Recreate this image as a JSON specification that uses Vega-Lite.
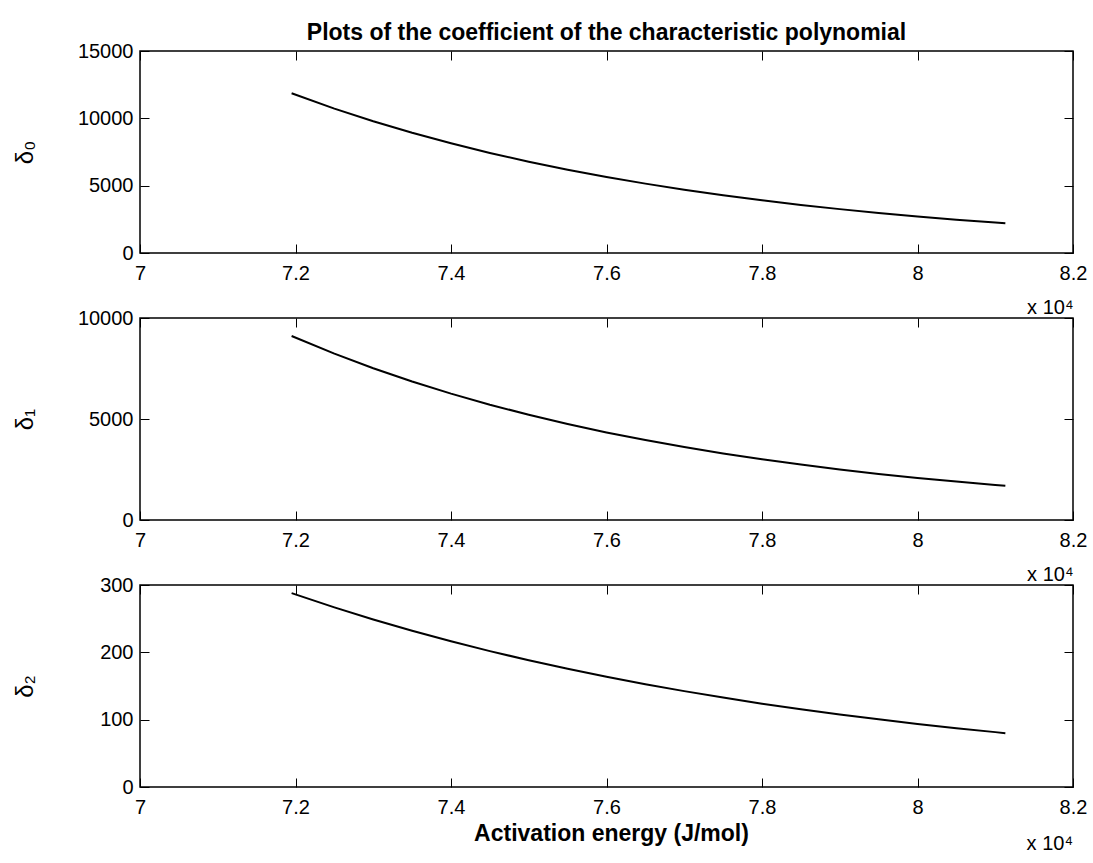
{
  "$schema": "https://vega.github.io/schema/vega-lite/v6.json",
  "background": "white",
  "padding": {"left": 12, "top": 21, "right": 5, "bottom": 5},
  "spacing": 65,
  "bounds": "flush",
  "datasets": {
    "d0": [
      {"E": 71950, "v": 11860}, {"E": 72500, "v": 10723}, {"E": 73000, "v": 9783}, {"E": 73500, "v": 8927},
      {"E": 74000, "v": 8145}, {"E": 74500, "v": 7431}, {"E": 75000, "v": 6780}, {"E": 75500, "v": 6187},
      {"E": 76000, "v": 5645}, {"E": 76500, "v": 5151}, {"E": 77000, "v": 4700}, {"E": 77500, "v": 4289},
      {"E": 78000, "v": 3913}, {"E": 78500, "v": 3570}, {"E": 79000, "v": 3258}, {"E": 79500, "v": 2972},
      {"E": 80000, "v": 2711}, {"E": 80500, "v": 2474}, {"E": 81000, "v": 2257}, {"E": 81130, "v": 2205}
    ],
    "d1": [
      {"E": 71950, "v": 9110}, {"E": 72500, "v": 8236}, {"E": 73000, "v": 7515}, {"E": 73500, "v": 6857},
      {"E": 74000, "v": 6257}, {"E": 74500, "v": 5708}, {"E": 75000, "v": 5208}, {"E": 75500, "v": 4753},
      {"E": 76000, "v": 4336}, {"E": 76500, "v": 3956}, {"E": 77000, "v": 3610}, {"E": 77500, "v": 3294},
      {"E": 78000, "v": 3005}, {"E": 78500, "v": 2742}, {"E": 79000, "v": 2503}, {"E": 79500, "v": 2283},
      {"E": 80000, "v": 2083}, {"E": 80500, "v": 1900}, {"E": 81000, "v": 1734}, {"E": 81130, "v": 1694}
    ],
    "d2": [
      {"E": 71950, "v": 288}, {"E": 72500, "v": 266.7}, {"E": 73000, "v": 248.7}, {"E": 73500, "v": 232.0},
      {"E": 74000, "v": 216.4}, {"E": 74500, "v": 201.8}, {"E": 75000, "v": 188.2}, {"E": 75500, "v": 175.5},
      {"E": 76000, "v": 163.7}, {"E": 76500, "v": 152.7}, {"E": 77000, "v": 142.4}, {"E": 77500, "v": 132.8},
      {"E": 78000, "v": 123.8}, {"E": 78500, "v": 115.5}, {"E": 79000, "v": 107.7}, {"E": 79500, "v": 100.5},
      {"E": 80000, "v": 93.7}, {"E": 80500, "v": 87.4}, {"E": 81000, "v": 81.5}, {"E": 81130, "v": 80.0}
    ]
  },
  "vconcat": [
    {
      "width": 933, "height": 202,
      "title": {"text": "Plots of the coefficient of the characteristic polynomial", "fontSize": 23, "fontWeight": "bold", "anchor": "middle", "frame": "group", "baseline": "alphabetic", "offset": -22, "color": "#000"},
      "data": {"name": "d0"},
      "layer": [
        {
          "mark": {"type": "line", "color": "#000", "strokeWidth": 2},
          "encoding": {
            "x": {"field": "E", "type": "quantitative", "scale": {"domain": [70000, 82000], "nice": false, "zero": false},
              "axis": {"orient": "bottom", "values": [70000, 72000, 74000, 76000, 78000, 80000, 82000], "labelExpr": "format(datum.value/10000, '~g')", "tickSize": -9, "labelPadding": 19, "labelFlush": false, "labelOverlap": false, "labelBound": false, "title": "x 10⁴", "titleAnchor": "end", "titleAlign": "right", "titleBaseline": "alphabetic", "titleY": 60}},
            "y": {"field": "v", "type": "quantitative", "scale": {"domain": [0, 15000], "nice": false},
              "axis": {"orient": "left", "values": [0, 5000, 10000, 15000], "format": "d", "tickSize": -9, "labelPadding": 16, "labelOverlap": false, "title": "δ₀", "titleFontSize": 24, "titleX": -115, "titleY": 101, "titleAngle": 270, "titleAlign": "center", "titleBaseline": "middle"}}
          }
        },
        {
          "mark": {"type": "line", "strokeOpacity": 0},
          "encoding": {
            "x": {"field": "E", "type": "quantitative", "scale": {"domain": [70000, 82000], "nice": false, "zero": false},
              "axis": {"orient": "top", "values": [70000, 72000, 74000, 76000, 78000, 80000, 82000], "tickSize": -9, "labels": false, "title": null}},
            "y": {"field": "v", "type": "quantitative", "scale": {"domain": [0, 15000], "nice": false},
              "axis": {"orient": "right", "values": [0, 5000, 10000, 15000], "tickSize": -9, "labels": false, "title": null}}
          }
        }
      ],
      "resolve": {"scale": {"x": "independent", "y": "independent"}}
    },
    {
      "width": 933, "height": 202,
      "data": {"name": "d1"},
      "layer": [
        {
          "mark": {"type": "line", "color": "#000", "strokeWidth": 2},
          "encoding": {
            "x": {"field": "E", "type": "quantitative", "scale": {"domain": [70000, 82000], "nice": false, "zero": false},
              "axis": {"orient": "bottom", "values": [70000, 72000, 74000, 76000, 78000, 80000, 82000], "labelExpr": "format(datum.value/10000, '~g')", "tickSize": -9, "labelPadding": 19, "labelFlush": false, "labelOverlap": false, "labelBound": false, "title": "x 10⁴", "titleAnchor": "end", "titleAlign": "right", "titleBaseline": "alphabetic", "titleY": 60}},
            "y": {"field": "v", "type": "quantitative", "scale": {"domain": [0, 10000], "nice": false},
              "axis": {"orient": "left", "values": [0, 5000, 10000], "format": "d", "tickSize": -9, "labelPadding": 16, "labelOverlap": false, "title": "δ₁", "titleFontSize": 24, "titleX": -115, "titleY": 101, "titleAngle": 270, "titleAlign": "center", "titleBaseline": "middle"}}
          }
        },
        {
          "mark": {"type": "line", "strokeOpacity": 0},
          "encoding": {
            "x": {"field": "E", "type": "quantitative", "scale": {"domain": [70000, 82000], "nice": false, "zero": false},
              "axis": {"orient": "top", "values": [70000, 72000, 74000, 76000, 78000, 80000, 82000], "tickSize": -9, "labels": false, "title": null}},
            "y": {"field": "v", "type": "quantitative", "scale": {"domain": [0, 10000], "nice": false},
              "axis": {"orient": "right", "values": [0, 5000, 10000], "tickSize": -9, "labels": false, "title": null}}
          }
        }
      ],
      "resolve": {"scale": {"x": "independent", "y": "independent"}}
    },
    {
      "width": 933, "height": 202,
      "title": {"text": "x 10⁴", "orient": "bottom", "anchor": "end", "frame": "group", "fontSize": 20, "fontWeight": "normal", "baseline": "alphabetic", "offset": 5, "color": "#000"},
      "data": {"name": "d2"},
      "layer": [
        {
          "mark": {"type": "line", "color": "#000", "strokeWidth": 2},
          "encoding": {
            "x": {"field": "E", "type": "quantitative", "scale": {"domain": [70000, 82000], "nice": false, "zero": false},
              "axis": {"orient": "bottom", "values": [70000, 72000, 74000, 76000, 78000, 80000, 82000], "labelExpr": "format(datum.value/10000, '~g')", "tickSize": -9, "labelPadding": 19, "labelFlush": false, "labelOverlap": false, "labelBound": false, "title": "Activation energy (J/mol)", "titleFontWeight": "bold", "titleFontSize": 23, "titleX": 471, "titleAlign": "center", "titleBaseline": "alphabetic", "titleY": 53}},
            "y": {"field": "v", "type": "quantitative", "scale": {"domain": [0, 300], "nice": false},
              "axis": {"orient": "left", "values": [0, 100, 200, 300], "format": "d", "tickSize": -9, "labelPadding": 16, "labelOverlap": false, "title": "δ₂", "titleFontSize": 24, "titleX": -115, "titleY": 101, "titleAngle": 270, "titleAlign": "center", "titleBaseline": "middle"}}
          }
        },
        {
          "mark": {"type": "line", "strokeOpacity": 0},
          "encoding": {
            "x": {"field": "E", "type": "quantitative", "scale": {"domain": [70000, 82000], "nice": false, "zero": false},
              "axis": {"orient": "top", "values": [70000, 72000, 74000, 76000, 78000, 80000, 82000], "tickSize": -9, "labels": false, "title": null}},
            "y": {"field": "v", "type": "quantitative", "scale": {"domain": [0, 300], "nice": false},
              "axis": {"orient": "right", "values": [0, 100, 200, 300], "tickSize": -9, "labels": false, "title": null}}
          }
        }
      ],
      "resolve": {"scale": {"x": "independent", "y": "independent"}}
    }
  ],
  "config": {
    "font": "Liberation Sans",
    "view": {"stroke": "#000", "strokeWidth": 1.5},
    "axis": {"grid": false, "domain": false, "tickColor": "#000", "tickWidth": 1, "labelColor": "#000", "labelFontSize": 20, "labelFont": "Liberation Sans", "titleColor": "#000", "titleFont": "Liberation Sans", "titleFontSize": 20, "titleFontWeight": "normal"},
    "title": {"font": "Liberation Sans", "color": "#000"}
  }
}
